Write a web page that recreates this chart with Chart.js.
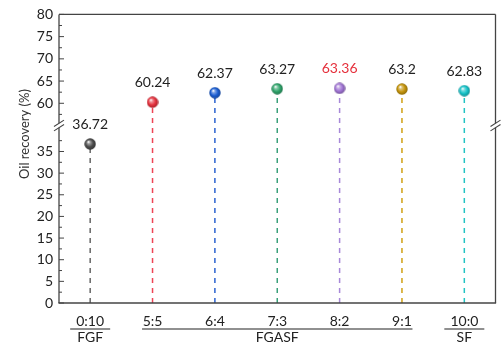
<!DOCTYPE html>
<html><head><meta charset="utf-8">
<script src="https://cdn.jsdelivr.net/npm/chart.js@4.4.0/dist/chart.umd.min.js"></script>
<style>html,body{margin:0;padding:0;background:#fff}#wrap{width:503px;height:344px}</style>
</head><body><div id="wrap"><canvas id="c" width="503" height="344"></canvas></div>
<script>
// ---- data ----
const categories = ['0:10', '5:5', '6:4', '7:3', '8:2', '9:1', '10:0'];
const recovery = [36.72, 60.24, 62.37, 63.27, 63.36, 63.2, 62.83];
const valueLabels = ['36.72', '60.24', '62.37', '63.27', '63.36', '63.2', '62.83'];
const groupNames = ['FGF', 'FGASF', 'SF'];
const groupFirst = [0, 1, 6];
const groupLast = [0, 5, 6];
const majorTicks = [0, 5, 10, 15, 20, 25, 30, 35, 60, 65, 70, 75, 80];
const minorTicks = [2.5, 7.5, 12.5, 17.5, 22.5, 27.5, 32.5, 37.5, 57.5, 62.5, 67.5, 72.5, 77.5];
const axisTitle = 'Oil recovery (%)';

// ---- styles ----
const ballColors = ['#4a4a4a', '#e5303c', '#1c5ed2', '#2ea36a', '#a074d4', '#c4940c', '#14c2c8'];
const lineColors = ['#666666', '#ee4455', '#2a62d0', '#3aa07a', '#a888d8', '#d0a014', '#22c4c4'];
const labelColors = ['#222', '#222', '#222', '#222', '#e5303c', '#222', '#222'];
const FONT = 'Lato, "Open Sans", sans-serif';

// ---- broken linear scale ----
class BrokenLinearScale extends Chart.LinearScale {
  _brk() { return this.options.axisBreak; }
  getPixelForValue(value) {
    const b = this._brk();
    const total = this.bottom - this.top;
    const lowH = total * b.lowerShare;
    if (value <= b.lowerMax) {
      return this.bottom - (value - this.min) / (b.lowerMax - this.min) * lowH;
    }
    return this.bottom - lowH - (value - b.upperMin) / (this.max - b.upperMin) * (total - lowH);
  }
  getValueForPixel(pixel) {
    const b = this._brk();
    const total = this.bottom - this.top;
    const lowH = total * b.lowerShare;
    const d = this.bottom - pixel;
    if (d <= lowH) return this.min + d / lowH * (b.lowerMax - this.min);
    return b.upperMin + (d - lowH) / (total - lowH) * (this.max - b.upperMin);
  }
}
BrokenLinearScale.id = 'brokenLinear';
BrokenLinearScale.defaults = Chart.LinearScale.defaults;
Chart.register(BrokenLinearScale);

// ---- ball images ----
function shade(hex, f) {
  const n = parseInt(hex.slice(1), 16);
  let r = (n >> 16) & 255, g = (n >> 8) & 255, b = n & 255;
  if (f >= 0) { r += (255 - r) * f; g += (255 - g) * f; b += (255 - b) * f; }
  else { r *= 1 + f; g *= 1 + f; b *= 1 + f; }
  return `rgb(${Math.round(r)},${Math.round(g)},${Math.round(b)})`;
}
function makeBall(color) {
  const s = 12, c = document.createElement('canvas');
  c.width = s; c.height = s;
  const g = c.getContext('2d');
  const r = s / 2;
  const grad = g.createRadialGradient(r - 1.8, r - 2.2, 0.3, r, r, r);
  grad.addColorStop(0, '#ffffff');
  grad.addColorStop(0.22, shade(color, 0.45));
  grad.addColorStop(0.6, color);
  grad.addColorStop(1, shade(color, -0.3));
  g.fillStyle = grad;
  g.beginPath(); g.arc(r, r, r - 0.3, 0, Math.PI * 2); g.fill();
  return c;
}
const balls = ballColors.map(makeBall);

// ---- datasets ----
const datasets = categories.map((cat, i) => ({
  data: [{ x: cat, y: 0 }, { x: cat, y: recovery[i] }],
  borderColor: lineColors[i],
  borderWidth: 1.5,
  borderDash: [5, 5],
  fill: false,
  tension: 0,
  pointRadius: ctx => ctx.dataIndex === 1 ? 6 : 0,
  pointHoverRadius: ctx => ctx.dataIndex === 1 ? 6 : 0,
  pointStyle: ctx => ctx.dataIndex === 1 ? balls[i] : 'circle'
}));

function seg(ctx, x1, y1, x2, y2) { ctx.beginPath(); ctx.moveTo(x1, y1); ctx.lineTo(x2, y2); ctx.stroke(); }

const decor = {
  id: 'decor',
  afterDatasetsDraw(chart) {
    const ctx = chart.ctx;
    ctx.save();
    ctx.font = '14px ' + FONT;
    ctx.textAlign = 'center';
    ctx.textBaseline = 'alphabetic';
    chart.data.datasets.forEach((ds, i) => {
      const p = chart.getDatasetMeta(i).data[1];
      ctx.fillStyle = labelColors[i];
      ctx.fillText(valueLabels[i], p.x, p.y - 15);
    });
    ctx.restore();
  },
  afterDraw(chart) {
    const { ctx, chartArea: a, scales: { x, y } } = chart;
    const b = y.options.axisBreak;
    const brk = y.getPixelForValue(b.lowerMax);
    ctx.save();
    ctx.strokeStyle = '#444';
    ctx.lineWidth = 1.3;
    seg(ctx, a.left, a.top, a.right, a.top);
    seg(ctx, a.left - 0.6, a.bottom, a.right + 0.6, a.bottom);
    const g = 2.2;
    for (const px of [a.left, a.right]) {
      seg(ctx, px, a.top, px, brk - g);
      seg(ctx, px, brk + g, px, a.bottom);
      ctx.lineWidth = 1.1;
      for (const d of [-g, g]) seg(ctx, px - 5, brk + d + 3.2, px + 5, brk + d - 3.2);
      ctx.lineWidth = 1.3;
    }
    ctx.lineWidth = 1;
    majorTicks.forEach(v => { const py = y.getPixelForValue(v); seg(ctx, a.left, py, a.left + 5, py); });
    minorTicks.forEach(v => { const py = y.getPixelForValue(v); seg(ctx, a.left, py, a.left + 3, py); });

    // group brackets
    ctx.strokeStyle = '#222';
    ctx.lineWidth = 1.2;
    ctx.fillStyle = '#222';
    ctx.font = '14px ' + FONT;
    ctx.textAlign = 'center';
    ctx.textBaseline = 'alphabetic';
    groupNames.forEach((name, k) => {
      const x1 = x.getPixelForValue(groupFirst[k]);
      const x2 = x.getPixelForValue(groupLast[k]);
      const ext = groupFirst[k] === groupLast[k] ? 20 : 10.5;
      seg(ctx, x1 - ext, 329, x2 + ext, 329);
      ctx.fillText(name, (x1 + x2) / 2, 342);
    });

    // y title
    ctx.save();
    ctx.translate(25, 134);
    ctx.rotate(-Math.PI / 2);
    ctx.font = '13px ' + FONT;
    ctx.fillStyle = '#333';
    ctx.textBaseline = 'middle';
    ctx.fillText(axisTitle, 0, 0);
    ctx.restore();
    ctx.restore();
  }
};

new Chart(document.getElementById('c'), {
  type: 'line',
  data: { labels: categories, datasets },
  options: {
    responsive: false,
    animation: false,
    devicePixelRatio: 1,
    layout: { padding: { top: 14, right: 3, left: 0, bottom: 0 } },
    plugins: { legend: { display: false }, tooltip: { enabled: false } },
    scales: {
      x: {
        type: 'category',
        offset: true,
        grid: { display: false, drawTicks: false },
        border: { display: false },
        ticks: { font: { family: FONT, size: 14 }, color: '#222', padding: 10, maxRotation: 0, autoSkip: false },
        afterFit: s => { s.height = 41; }
      },
      y: {
        type: 'brokenLinear',
        min: 0,
        max: 80,
        axisBreak: { lowerMax: 41, upperMin: 55, lowerShare: 0.615 },
        grid: { display: false, drawTicks: false },
        border: { display: false },
        ticks: { font: { family: FONT, size: 14 }, color: '#222', padding: 6, callback: v => String(v) },
        afterBuildTicks: s => { s.ticks = majorTicks.map(v => ({ value: v })); },
        afterFit: s => { s.width = 59; }
      }
    }
  },
  plugins: [decor]
});
</script>
</body></html>
